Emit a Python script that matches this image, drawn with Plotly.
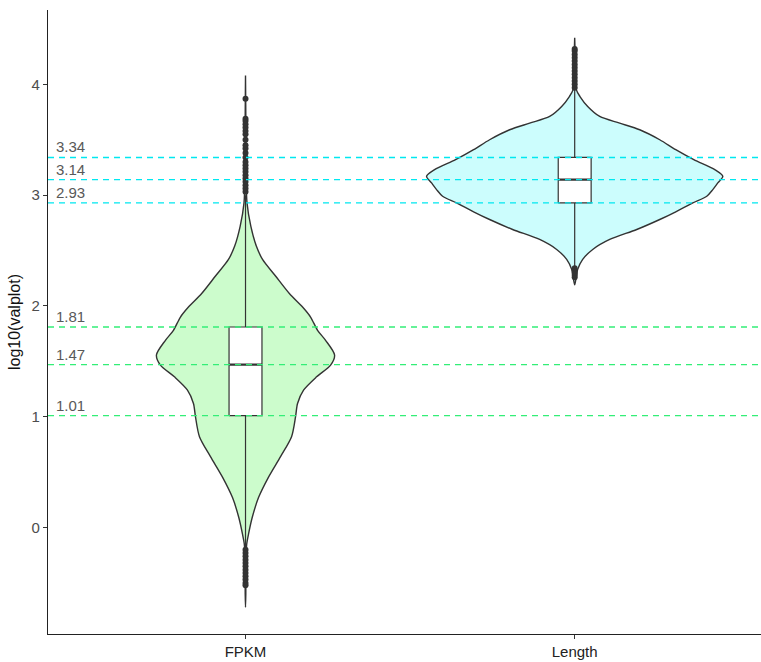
import plotly.graph_objects as go

# ---------------- data ----------------
categories = ["FPKM", "Length"]
cat_pos = [1, 2]

# violin density profiles (relative density at given log10 values)
fpkm_y = [-0.72, -0.60, -0.40, -0.25, -0.15, -0.06, 0.09, 0.27, 0.455, 0.64, 0.82, 1.00,
          1.12, 1.24, 1.36, 1.466, 1.557, 1.69, 1.78, 1.90, 1.99, 2.11, 2.27, 2.42,
          2.54, 2.72, 2.93, 3.20, 3.60, 4.08]
fpkm_d = [0.0, 0.3, 0.4, 0.6, 1.2, 3.0, 6.7, 13.0, 23.0, 35.0, 46.0, 50.0,
          52.0, 58.0, 71.0, 85.0, 89.0, 80.0, 72.0, 65.0, 57.0, 44.0, 30.0, 17.0,
          10.8, 5.3, 1.5, 0.6, 0.4, 0.0]

len_y = [2.19, 2.26, 2.33, 2.42, 2.51, 2.60, 2.69, 2.78, 2.85, 2.93, 2.99, 3.05,
         3.11, 3.17, 3.23, 3.32, 3.41, 3.50, 3.59, 3.65, 3.71, 3.80, 3.89, 3.95,
         4.10, 4.25, 4.42]
len_d = [0.0, 1.5, 3.0, 8.0, 18.0, 35.0, 62.0, 85.0, 101.0, 118.0, 132.0, 138.0,
         143.0, 148.0, 140.0, 119.0, 101.0, 85.0, 65.0, 45.0, 25.0, 13.0, 5.3, 1.7,
         0.8, 0.5, 0.0]

# box-plot statistics
q1 = [1.01, 2.93]
median = [1.47, 3.14]
q3 = [1.81, 3.34]
lower_fence = [-0.18, 2.35]
upper_fence = [3.00, 3.95]

# outliers
fpkm_out = [3.03, 3.06, 3.09, 3.12, 3.15, 3.18, 3.21, 3.24, 3.27, 3.30, 3.34, 3.38,
            3.42, 3.45, 3.50, 3.55, 3.58, 3.61, 3.64, 3.67, 3.69, 3.87,
            -0.20, -0.23, -0.26, -0.29, -0.32, -0.35, -0.38, -0.41, -0.44, -0.47,
            -0.50, -0.52]
len_out = [3.97, 4.00, 4.03, 4.06, 4.09, 4.12, 4.15, 4.18, 4.21, 4.24, 4.27, 4.30,
           4.32, 2.26, 2.28, 2.30, 2.32, 2.34]

# reference lines
green_lines = [1.01, 1.47, 1.81]
cyan_lines = [2.93, 3.14, 3.34]

# ---------------- styling ----------------
fills = ["#ccfccc", "#ccfdfd"]
outline = "#333333"
max_half = 0.45
box_half = 0.05
dmax = max(max(fpkm_d), max(len_d))

fig = go.Figure()

# violins
profiles = [(fpkm_y, fpkm_d), (len_y, len_d)]
for i, (ys, ds) in enumerate(profiles):
    c = cat_pos[i]
    hw = [max_half * d / dmax for d in ds]
    xs = [c + h for h in hw] + [c - h for h in reversed(hw)]
    yy = list(ys) + list(reversed(ys))
    fig.add_trace(go.Scatter(x=xs, y=yy, mode="lines", fill="toself",
                             fillcolor=fills[i],
                             line=dict(color=outline, width=1.4, shape="spline", smoothing=0.8),
                             hoverinfo="skip", showlegend=False))

# box plots
for i, c in enumerate(cat_pos):
    fig.add_trace(go.Scatter(x=[c, c, None, c, c],
                             y=[q3[i], upper_fence[i], None, q1[i], lower_fence[i]],
                             mode="lines", line=dict(color=outline, width=1.2),
                             showlegend=False, hoverinfo="skip"))
    fig.add_trace(go.Scatter(x=[c - box_half, c + box_half, c + box_half, c - box_half, c - box_half],
                             y=[q1[i], q1[i], q3[i], q3[i], q1[i]],
                             mode="lines", fill="toself", fillcolor="white",
                             line=dict(color=outline, width=1.2),
                             showlegend=False, hoverinfo="skip"))
    fig.add_trace(go.Scatter(x=[c - box_half, c + box_half], y=[median[i], median[i]], mode="lines",
                             line=dict(color=outline, width=2.4), showlegend=False,
                             hoverinfo="skip"))

fig.add_trace(go.Scatter(x=[cat_pos[0]] * len(fpkm_out), y=fpkm_out, mode="markers",
                         marker=dict(color=outline, size=6), showlegend=False))
fig.add_trace(go.Scatter(x=[cat_pos[1]] * len(len_out), y=len_out, mode="markers",
                         marker=dict(color=outline, size=6), showlegend=False))

# dashed reference lines (drawn above)
for v in green_lines:
    fig.add_hline(y=v, line=dict(color="#33ee77", width=1.4, dash="6px,5px"), layer="above")
for v in cyan_lines:
    fig.add_hline(y=v, line=dict(color="#00e8f0", width=1.4, dash="6px,5px"), layer="above")

for v in green_lines + cyan_lines:
    fig.add_annotation(x=0.417, y=v, xref="x", yref="y", text=f"{v:.2f}",
                       showarrow=False, xanchor="left", yanchor="bottom", yshift=0,
                       font=dict(size=15, color="#595959"))

fig.update_layout(
    width=761, height=662,
    margin=dict(l=48, r=0, t=10, b=28),
    plot_bgcolor="white", paper_bgcolor="white",
    font=dict(family="Liberation Sans, Arial, sans-serif", size=15, color="#4d4d4d"),
    showlegend=False,
)
fig.update_xaxes(range=[0.4, 2.566], tickvals=cat_pos, ticktext=categories,
                 showgrid=False, zeroline=False, showline=True, linecolor="#222222",
                 linewidth=1.3, ticks="outside", ticklen=4, tickcolor="#333333",
                 tickfont=dict(size=15, color="#222222"))
fig.update_yaxes(range=[-0.961, 4.671], tickvals=[0, 1, 2, 3, 4],
                 showgrid=False, zeroline=False, showline=True, linecolor="#222222",
                 linewidth=1.3, ticks="outside", ticklen=4, tickcolor="#333333",
                 tickfont=dict(size=15, color="#4d4d4d"),
                 title=dict(text="log10(valplot)", font=dict(size=16, color="#111111"),
                            standoff=6))

fig.write_html("out.html", config={"displayModeBar": False},
               post_script="document.body.style.margin='0';document.body.style.overflow='hidden';")
